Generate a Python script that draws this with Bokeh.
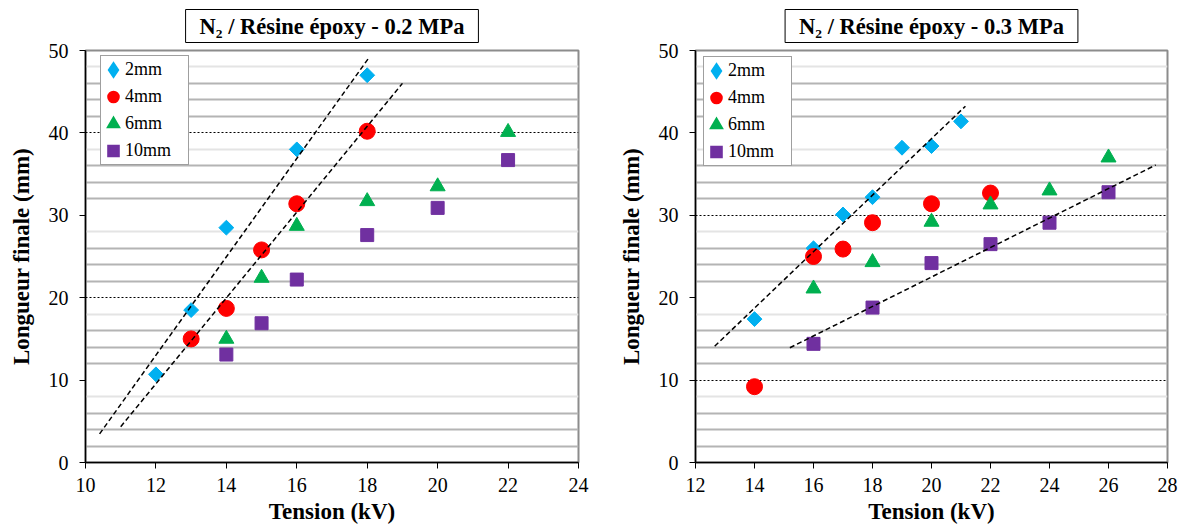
import numpy as np
from bokeh.plotting import figure
from bokeh.layouts import row
from bokeh.models import Range1d, FixedTicker, Grid, Legend, LegendItem
from bokeh.embed import file_html
from bokeh.resources import INLINE

# ---------------- data : N2 / epoxy 0.2 MPa ----------------
l_x_2mm = [12, 13, 14, 16, 18]
l_y_2mm = [10.7, 18.5, 28.5, 38.0, 47.0]
l_x_4mm = [13, 14, 15, 16, 18]
l_y_4mm = [15.0, 18.7, 25.8, 31.4, 40.2]
l_x_6mm = [14, 15, 16, 18, 20, 22]
l_y_6mm = [15.0, 22.4, 28.7, 31.7, 33.5, 40.1]
l_x_10mm = [14, 15, 16, 18, 20, 22]
l_y_10mm = [13.1, 16.9, 22.2, 27.6, 30.9, 36.7]
l_trend_2mm_x = [10.4, 18.05]
l_trend_4mm_x = [11.0, 19.0]

# ---------------- data : N2 / epoxy 0.3 MPa ----------------
r_x_2mm = [14, 16, 17, 18, 19, 20, 21]
r_y_2mm = [17.4, 26.0, 30.1, 32.2, 38.2, 38.4, 41.4]
r_x_4mm = [14, 16, 17, 18, 20, 22]
r_y_4mm = [9.2, 25.0, 25.9, 29.1, 31.4, 32.7]
r_x_6mm = [16, 18, 20, 22, 24, 26]
r_y_6mm = [21.1, 24.3, 29.2, 31.3, 33.0, 37.0]
r_x_10mm = [16, 18, 20, 22, 24, 26]
r_y_10mm = [14.4, 18.8, 24.2, 26.5, 29.1, 32.8]
r_trend_2mm_x = [12.65, 21.15]
r_trend_10mm_x = [15.2, 27.6]

labels = ["2mm", "4mm", "6mm", "10mm"]
colors = ["#00B0F0", "#FF0000", "#00B050", "#7030A0"]
legend_markers = ["diamond", "circle", "triangle", "square"]
y_ticks = [0, 10, 20, 30, 40, 50]

FONT = "Liberation Serif"
H = 528


def build(title, xr, width, bl, br, series, trends, major_dotted, minor_dark, minor_light, leg_loc):
    p = figure(width=width, height=H, x_range=Range1d(*xr), y_range=Range1d(0, 50),
               output_backend="svg", toolbar_location=None,
               min_border_left=bl, min_border_right=br, min_border_top=50, min_border_bottom=66)
    p.background_fill_color = "white"
    p.border_fill_color = "white"
    p.outline_line_color = "#8c8c8c"
    p.outline_line_width = 2
    p.xgrid.visible = False
    p.ygrid.visible = False

    p.title.text = title
    p.title.align = "center"
    p.title.vertical_align = "top"
    p.title.text_font = FONT
    p.title.text_font_size = "22.5px"
    p.title.text_font_style = "bold"
    p.title.text_color = "black"
    p.title.standoff = 12
    p.title.border_line_color = "black"
    p.title.border_line_width = 1
    p.title.background_fill_color = "white"
    p.title.padding = dict(left=14, right=14, top=4, bottom=4)

    for ticks, col, dash, w in [(minor_light, "#e4e4e4", "solid", 2),
                                (minor_dark, "#b4b4b4", "solid", 2),
                                (major_dotted, "black", "2 2", 1)]:
        g = Grid(dimension=1, ticker=FixedTicker(ticks=ticks), grid_line_color=col,
                 grid_line_width=w, grid_line_dash=dash)
        p.add_layout(g)

    p.xaxis.ticker = FixedTicker(ticks=list(range(xr[0], xr[1] + 1, 2)))
    p.yaxis.ticker = FixedTicker(ticks=y_ticks)
    p.xaxis.axis_label = "Tension (kV)"
    p.yaxis.axis_label = "Longueur finale (mm)"
    for ax in (p.xaxis[0], p.yaxis[0]):
        ax.axis_line_color = "black"
        ax.axis_line_width = 1.5
        ax.major_tick_line_color = "black"
        ax.major_tick_out = 6
        ax.major_tick_in = 0
        ax.minor_tick_line_color = None
        ax.major_label_text_font = FONT
        ax.major_label_text_font_size = "20px"
        ax.major_label_text_color = "black"
        ax.axis_label_text_font = FONT
        ax.axis_label_text_font_size = "23px"
        ax.axis_label_text_font_style = "bold"
        ax.axis_label_text_color = "black"
    p.xaxis.major_label_standoff = 9
    p.xaxis.axis_label_standoff = 4
    p.yaxis.major_label_standoff = 11
    p.yaxis.axis_label_standoff = 12

    (x2, y2), (x4, y4), (x6, y6), (x10, y10) = series
    p.scatter(x2, y2, marker="square", angle=np.pi / 4, size=10.5, color=colors[0])
    p.scatter(x4, y4, marker="circle", size=16, color=colors[1])
    p.scatter(x6, y6, marker="triangle", size=15, color=colors[2])
    p.scatter(x10, y10, marker="square", size=13, color=colors[3])

    for (xs, ys), tx in trends:
        k, b = np.polyfit(np.array(xs, float), np.array(ys, float), 1)
        txa = np.array(tx, float)
        p.line(txa, k * txa + b, line_color="black", line_width=1.5, line_dash="5 3")

    # legend glyphs (hidden renderers, thick outline to enlarge the legend symbol)
    items = []
    for (xs, ys), lab, col, mk in zip(series, labels, colors, legend_markers):
        lw = 4.5 if mk == "diamond" else 3
        r = p.scatter(xs, ys, marker=mk, size=10, fill_color=col, line_color=col,
                      line_width=lw, line_join="miter", visible=False)
        items.append(LegendItem(label=lab, renderers=[r]))

    legend = Legend(items=items, location=leg_loc, margin=0, padding=0, spacing=0,
                    glyph_width=24, glyph_height=27, label_standoff=0, label_width=63,
                    label_text_font=FONT, label_text_font_size="18px",
                    label_text_color="black", border_line_color="#404040",
                    border_line_width=1, background_fill_color="white",
                    background_fill_alpha=1)
    p.add_layout(legend)
    return p


p1 = build("N\u2082 / Résine époxy - 0.2 MPa", (10, 24), 608, 85, 30,
           [(l_x_2mm, l_y_2mm), (l_x_4mm, l_y_4mm), (l_x_6mm, l_y_6mm), (l_x_10mm, l_y_10mm)],
           [((l_x_2mm, l_y_2mm), l_trend_2mm_x), ((l_x_4mm, l_y_4mm), l_trend_4mm_x)],
           [20, 40],
           [2, 4, 6, 12, 14, 16, 22, 24, 26, 32, 34, 36, 42, 44, 46],
           [8, 18, 28, 38, 48],
           (15, 297))

p2 = build("N\u2082 / Résine époxy - 0.3 MPa", (12, 28), 586, 87, 27,
           [(r_x_2mm, r_y_2mm), (r_x_4mm, r_y_4mm), (r_x_6mm, r_y_6mm), (r_x_10mm, r_y_10mm)],
           [((r_x_2mm, r_y_2mm), r_trend_2mm_x), ((r_x_10mm, r_y_10mm), r_trend_10mm_x)],
           [10, 30],
           [2, 4, 6, 12, 14, 16, 22, 24, 26, 32, 34, 36, 42, 44, 46],
           [8, 18, 28, 38, 48],
           (8, 296))

layout = row(p1, p2)
open("out.html", "w").write(file_html(layout, INLINE))
